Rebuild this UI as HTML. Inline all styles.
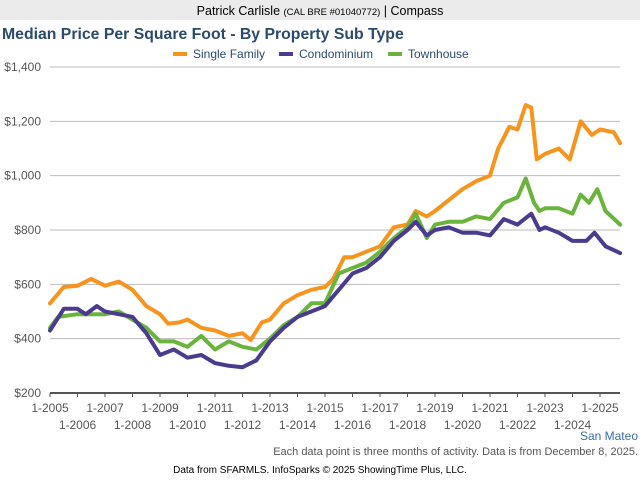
<!DOCTYPE html><html><head><style>
body{margin:0;width:640px;height:480px;background:#fff;font-family:"Liberation Sans",sans-serif;overflow:hidden}
</style></head><body>
<svg width="640" height="480" xmlns="http://www.w3.org/2000/svg" font-family="Liberation Sans, sans-serif">
<rect x="0" y="0" width="640" height="20" fill="#ebebeb"/>
<text x="320" y="15" text-anchor="middle" font-size="12.5" fill="#000">Patrick Carlisle <tspan font-size="9.5">(CAL BRE #01040772)</tspan> | Compass</text>
<text x="2" y="39" font-size="15.8" font-weight="bold" fill="#2a4a6e">Median Price Per Square Foot - By Property Sub Type</text>
<g font-size="12" fill="#2a4a6e">
<rect x="173" y="52" width="14" height="4" fill="#f7941d"/><text x="193" y="58">Single Family</text>
<rect x="279" y="52" width="14" height="4" fill="#4b3b8f"/><text x="299" y="58">Condominium</text>
<rect x="388" y="52" width="14" height="4" fill="#6ab43e"/><text x="408" y="58">Townhouse</text>
</g>
<g id="grid" stroke="#bbb" stroke-width="1"></g>
<g id="ylab" font-size="12" fill="#555" text-anchor="end"></g>
<g id="xt" stroke="#555" stroke-width="1"></g>
<g id="xl" font-size="12" fill="#555" text-anchor="middle"></g>
<g id="series" fill="none" stroke-width="4" stroke-linejoin="round" stroke-linecap="round"></g>
<text x="638" y="440" text-anchor="end" font-size="12" fill="#3b6ea5">San Mateo</text>
<text x="638" y="455" text-anchor="end" font-size="11" fill="#555">Each data point is three months of activity. Data is from December 8, 2025.</text>
<text x="320" y="473" text-anchor="middle" font-size="10" fill="#000">Data from SFARMLS. InfoSparks © 2025 ShowingTime Plus, LLC.</text>
</svg>
<script>
var NS="http://www.w3.org/2000/svg";
function el(p,t,a,txt){var e=document.createElementNS(NS,t);for(var k in a)e.setAttribute(k,a[k]);if(txt)e.textContent=txt;document.getElementById(p).appendChild(e);}
function X(y){return 50+(y-2005)*27.5}
function Y(v){return 393-(v-200)*0.27167}
for(var v=200;v<=1400;v+=200){var y=Y(v);
 el("grid","line",{x1:50,x2:620,y1:y,y2:y,stroke:v==200?"#555":"#bbb","stroke-width":v==200?2:1});
 el("ylab","text",{x:41,y:y+4},"$"+(v>=1000?(Math.floor(v/1000)+","+String(v%1000).padStart(3,"0")):v));}
for(var yr=2005;yr<=2025;yr++){var x=X(yr);el("xt","line",{x1:x,x2:x,y1:393,y2:397});
 el("xl","text",{x:x,y:(yr%2?412:429)},"1-"+yr);}
var S=[["#f7941d",[2005,530,2005.5,590,2006,595,2006.5,620,2007,595,2007.5,610,2008,580,2008.5,520,2009,490,2009.3,455,2009.7,460,2010,470,2010.5,440,2011,430,2011.5,410,2012,420,2012.3,395,2012.7,460,2013,470,2013.5,530,2014,560,2014.5,580,2015,590,2015.3,620,2015.7,700,2016,700,2016.5,720,2017,740,2017.5,810,2018,820,2018.3,870,2018.7,850,2019,870,2019.5,910,2020,950,2020.5,980,2021,1000,2021.3,1100,2021.7,1180,2022,1170,2022.3,1260,2022.5,1250,2022.7,1060,2023,1080,2023.5,1100,2023.9,1060,2024.3,1200,2024.7,1150,2025,1170,2025.5,1160,2025.73,1120]],
["#6ab43e",[2005,440,2005.3,480,2006,490,2007,490,2007.5,500,2008,470,2008.5,440,2009,390,2009.5,390,2010,370,2010.5,410,2011,360,2011.5,390,2012,370,2012.5,360,2013,400,2013.5,450,2014,480,2014.5,530,2015,530,2015.5,640,2016,660,2016.5,680,2017,720,2017.5,770,2018,810,2018.3,860,2018.7,770,2019,820,2019.5,830,2020,830,2020.5,850,2021,840,2021.5,900,2022,920,2022.3,990,2022.6,900,2022.8,870,2023,880,2023.5,880,2024,860,2024.3,930,2024.6,900,2024.9,950,2025.2,870,2025.73,820]],
["#4b3b8f",[2005,430,2005.5,510,2006,510,2006.3,490,2006.7,520,2007,500,2007.5,490,2008,480,2008.5,420,2009,340,2009.5,360,2010,330,2010.5,340,2011,310,2011.5,300,2012,295,2012.5,320,2013,390,2013.5,440,2014,480,2014.5,500,2015,520,2015.5,580,2016,640,2016.5,660,2017,700,2017.5,760,2018,800,2018.3,830,2018.7,780,2019,800,2019.5,810,2020,790,2020.5,790,2021,780,2021.5,840,2022,820,2022.5,860,2022.8,800,2023,810,2023.5,790,2024,760,2024.5,760,2024.8,790,2025.2,740,2025.73,715]]];
S.forEach(function(s){var p=[];for(var i=0;i<s[1].length;i+=2)p.push(X(s[1][i]).toFixed(1)+","+Y(s[1][i+1]).toFixed(1));
 el("series","polyline",{points:p.join(" "),stroke:s[0]});});
</script>
</body></html>
